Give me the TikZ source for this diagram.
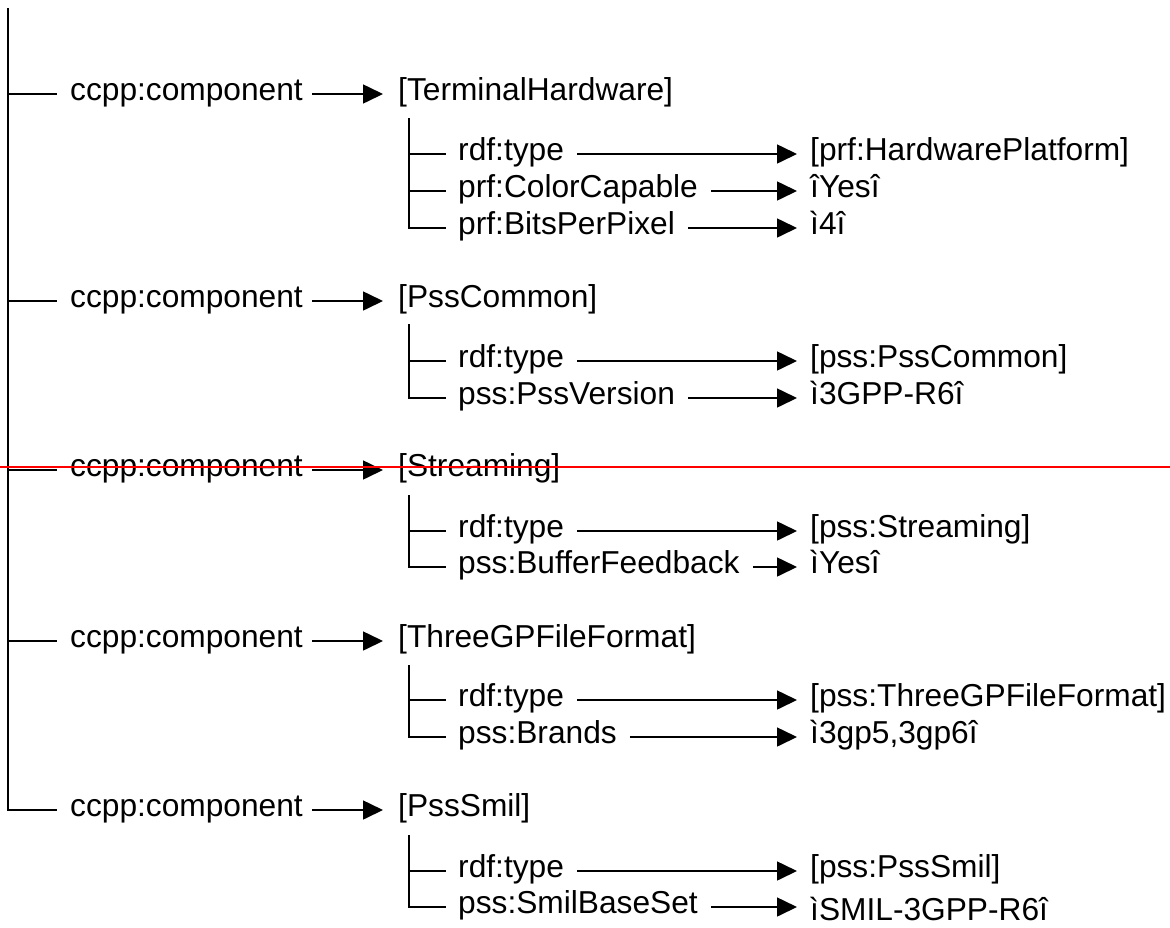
\documentclass[tikz,border=0pt]{standalone}
\usepackage{fontspec}
\setmainfont{Liberation Sans}
\usetikzlibrary{arrows.meta}
\begin{document}
\begin{tikzpicture}[x=1pt,y=-1pt,
  tree/.style={line width=1.6pt},
  lbl/.style={inner sep=0pt,anchor=west,text height=22pt,text depth=10pt,font=\fontsize{31.7}{38}\selectfont},
  arr/.style={line width=1.6pt,-{Triangle[length=20pt,width=19pt]}},
  redline/.style={draw=red,line width=2pt}
]
\useasboundingbox (0,0) rectangle (1170,927);

% components
\node[lbl] (c1) at (70,94)  {ccpp:component};
\node[lbl] (k1) at (398,94) {[TerminalHardware]};
\node[lbl] (c2) at (70,301)  {ccpp:component};
\node[lbl] (k2) at (398,301) {[PssCommon]};
\node[lbl] (c3) at (70,470)  {ccpp:component};
\node[lbl] (k3) at (398,470) {[Streaming]};
\node[lbl] (c4) at (70,641)  {ccpp:component};
\node[lbl] (k4) at (398,641) {[ThreeGPFileFormat]};
\node[lbl] (c5) at (70,810)  {ccpp:component};
\node[lbl] (k5) at (398,810) {[PssSmil]};

% properties and values
\node[lbl] (p11) at (458,154) {rdf:type};
\node[lbl] (v11) at (810,154) {[prf:HardwarePlatform]};
\node[lbl] (p12) at (458,191) {prf:ColorCapable};
\node[lbl] (v12) at (810,191) {îYesî};
\node[lbl] (p13) at (458,228) {prf:BitsPerPixel};
\node[lbl] (v13) at (810,228) {ì4î};

\node[lbl] (p21) at (458,361) {rdf:type};
\node[lbl] (v21) at (810,361) {[pss:PssCommon]};
\node[lbl] (p22) at (458,398) {pss:PssVersion};
\node[lbl] (v22) at (810,398) {ì3GPP-R6î};

\node[lbl] (p31) at (458,531) {rdf:type};
\node[lbl] (v31) at (810,531) {[pss:Streaming]};
\node[lbl] (p32) at (458,567) {pss:BufferFeedback};
\node[lbl] (v32) at (810,567) {ìYesî};

\node[lbl] (p41) at (458,700) {rdf:type};
\node[lbl] (v41) at (810,700) {[pss:ThreeGPFileFormat]};
\node[lbl] (p42) at (458,737) {pss:Brands};
\node[lbl] (v42) at (810,737) {ì3gp5,3gp6î};

\node[lbl] (p51) at (458,871) {rdf:type};
\node[lbl] (v51) at (810,871) {[pss:PssSmil]};
\node[lbl] (p52) at (458,907) {pss:SmilBaseSet};
\node[lbl] (v52) at (810,914) {ìSMIL-3GPP-R6î};

% main tree
\coordinate (root) at (8,8);
\draw[tree] (root) |- ([xshift=-13pt]c5.west);
\foreach \c in {c1,c2,c3,c4}
  \draw[tree] (root |- \c.west) -- ([xshift=-13pt]\c.west);
\foreach \c/\k in {c1/k1,c2/k2,c3/k3,c4/k4,c5/k5}
  \draw[arr] ([xshift=9pt]\c.east) -- ([xshift=-15pt]\k.west);

% sub trees
\coordinate (s1) at (409,118);
\coordinate (s2) at (409,324);
\coordinate (s3) at (409,495);
\coordinate (s4) at (409,665);
\coordinate (s5) at (409,835);
\draw[tree] (s1) |- ([xshift=-12pt]p13.west);
\draw[tree] (s2) |- ([xshift=-12pt]p22.west);
\draw[tree] (s3) |- ([xshift=-12pt]p32.west);
\draw[tree] (s4) |- ([xshift=-12pt]p42.west);
\draw[tree] (s5) |- ([xshift=-12pt]p52.west);
\foreach \s/\p in {s1/p11,s1/p12,s2/p21,s3/p31,s4/p41,s5/p51}
  \draw[tree] (\s |- \p.west) -- ([xshift=-12pt]\p.west);

% property arrows
\foreach \p/\v in {p11/v11,p12/v12,p13/v13,p21/v21,p22/v22,p31/v31,p32/v32,p41/v41,p42/v42,p51/v51}
  \draw[arr] ([xshift=13pt]\p.east) -- ([xshift=-13pt]\v.west);
\draw[arr] ([xshift=13pt]p52.east) -- ([xshift=-13pt]v52.west |- p52.east);

% red marker line
\coordinate (rl) at (0,467);
\coordinate (rr) at (1170,467);
\draw[redline] (rl) -- (rr);
\end{tikzpicture}
\end{document}
